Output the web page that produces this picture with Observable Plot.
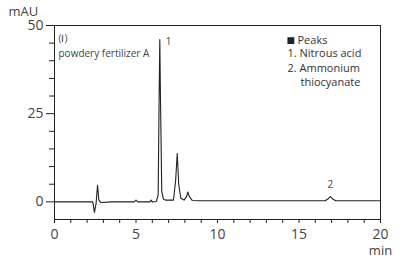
<!DOCTYPE html>
<html>
<head>
<meta charset="utf-8">
<script src="https://cdn.jsdelivr.net/npm/d3@7"></script>
<script src="https://cdn.jsdelivr.net/npm/@observablehq/plot@0.6"></script>
<style>
  html, body { margin: 0; padding: 0; background: #fff; }
  svg { display: block; }
</style>
</head>
<body>
<div id="chart"></div>
<script>
// Retention time (min) and absorbance (mAU)
const times = [0, 2.35, 2.45, 2.55, 2.64, 2.72, 2.85, 3.5, 4.9, 5.0, 5.1, 5.85, 5.93, 6.0, 6.25, 6.36, 6.42, 6.46, 6.5, 6.58, 6.68, 6.8, 7.3, 7.43, 7.53, 7.62, 7.75, 7.95, 8.1, 8.18, 8.27, 8.45, 8.8, 10, 16.6, 16.8, 16.93, 17.05, 17.25, 20];
const signal = [0, 0, -3, -0.5, 4.7, 0.5, -0.2, 0, 0, 0.5, 0, 0, 0.5, 0, 0.1, 2, 30, 46, 30, 3, 0.8, 0.5, 0.5, 6, 13.7, 5, 1, 0.5, 1.5, 2.8, 1.5, 0.4, 0.3, 0.3, 0.3, 0.9, 1.5, 0.9, 0.3, 0.3];

const peakTimes = [6.46, 16.93];
const peakHeights = [46, 1.5];
const peakLabels = ["1", "2"];

const yMajorTicks = [0, 25, 50];
const yMinorTicks = [5, 10, 15, 20, 30, 35, 40, 45];
const xMinorTicks = [1, 2, 3, 4, 6, 7, 8, 9, 11, 12, 13, 14, 16, 17, 18, 19];
const xMajorTicks = [0, 5, 10, 15, 20];

const legendTitle = "Peaks";
const legendItem1 = "1. Nitrous acid";
const legendItem2 = "2. Ammonium";
const legendWrap = "thiocyanate";
const sampleLine1 = "(Ⅰ)";
const sampleLine2 = "powdery fertilizer A";

const trace = times.map((t, i) => ({t, v: signal[i]}));
const peaks = peakTimes.map((t, i) => ({t, v: peakHeights[i], label: peakLabels[i]}));

const font = "'Open Sans', 'Noto Sans', sans-serif";
const textColor = "#444";

// annotations placed relative to the centre of the plot frame
function note(text, dx, dy, opts = {}) {
  return Plot.text([text], {frameAnchor: "middle", dx, dy, textAnchor: "start", lineAnchor: "middle", fontSize: 11, fill: "#333", ...opts});
}

const chart = Plot.plot({
  width: 403,
  height: 262,
  marginLeft: 54,
  marginRight: 23,
  marginTop: 25,
  marginBottom: 43,
  style: {fontFamily: font, color: textColor, background: "#fff", overflow: "visible"},
  x: {domain: [0, 20]},
  y: {domain: [-5, 50]},
  marks: [
    Plot.frame({stroke: "#222", strokeWidth: 1}),
    Plot.axisY(yMajorTicks, {tickSize: 8, tickPadding: 3, fontSize: 14, stroke: "#222", fill: textColor, label: null}),
    Plot.axisY(yMinorTicks, {tickSize: 5, text: null, stroke: "#222", label: null}),
    Plot.axisX(xMajorTicks, {tickSize: 4, tickPadding: 6, fontSize: 14, stroke: "#222", fill: textColor, label: null}),
    Plot.axisX(xMinorTicks, {tickSize: 4, text: null, stroke: "#222", label: null}),
    Plot.line(trace, {x: "t", y: "v", stroke: "#222", strokeWidth: 1.1}),
    Plot.text(peaks.slice(0, 1), {x: "t", y: "v", text: "label", dx: 6, dy: 2, textAnchor: "start", fontSize: 10, fill: textColor}),
    Plot.text(peaks.slice(1), {x: "t", y: "v", text: "label", dy: -12, textAnchor: "middle", fontSize: 10, fill: textColor}),
    Plot.text(["mAU"], {x: [0], y: [50], dx: -46, dy: -14, textAnchor: "start", fontSize: 13, fill: textColor}),
    Plot.text(["min"], {x: [20], y: [-5], dy: 35, textAnchor: "middle", lineAnchor: "bottom", fontSize: 13, fill: textColor}),
    note(sampleLine1, -159, -84, {fontSize: 10, fill: textColor}),
    note(sampleLine2, -159, -69, {fontSize: 10, fill: textColor}),
    note("■", 69, -82, {fontSize: 14, fill: "#222"}),
    note(legendTitle, 80, -82),
    note(legendItem1, 70, -69),
    note(legendItem2, 70, -54),
    note(legendWrap, 83, -40)
  ]
});
document.getElementById("chart").appendChild(chart);
</script>
</body>
</html>
